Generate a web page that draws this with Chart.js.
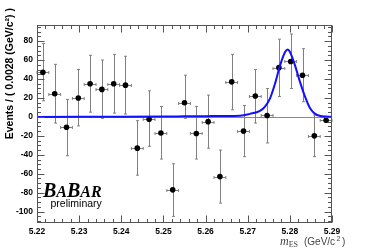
<!DOCTYPE html>
<html>
<head>
<meta charset="utf-8">
<script src="https://cdn.jsdelivr.net/npm/chart.js@4.4.1/dist/chart.umd.min.js"></script>
<style>
  html, body { margin: 0; padding: 0; background: #fff; }
  #wrap { position: relative; width: 371px; height: 251px; }
</style>
</head>
<body>
<div id="wrap"><canvas id="mes-chart" width="371" height="251"></canvas></div>
<script>
// m_ES bin centres (GeV/c^2), bins of 0.0028
const binCenters = [5.2214, 5.2242, 5.2270, 5.2298, 5.2326, 5.2354, 5.2382, 5.2410, 5.2438, 5.2466,
                    5.2494, 5.2522, 5.2550, 5.2578, 5.2606, 5.2634, 5.2662, 5.2690, 5.2718, 5.2746,
                    5.2774, 5.2802, 5.2830, 5.2858, 5.2886];
const binHalfWidth = 0.0014;
// events per bin and the ends of the error bars
const events  = [47, 24.5, -11, 20, 35, 29, 35, 33.5, -33, -2.5, -17, -77, 15, -17.5, -5, -63, 37, -15, 22, 1.5, 52, 58.5, 44, -20, -3.5];
const errHigh = [77.5, 55.5, 18.5, 50, 65, 60, 66, 64, -4, 27.5, 11, -49.5, 44, 11, 23, -35, 66, 12, 50, 30, 82, 87.5, 72, 2, -3.5];
const errLow  = [17, -6.5, -41, -9.5, 5, -1.5, 4, 3, -61.5, -31, -44.5, -105, -1.5, -44.5, -33, -91, 7.5, -42, -6.5, -27.5, 21.5, 30, 16, -42, -3.5];
// fit curve
const fitX = [5.22, 5.23, 5.24, 5.25, 5.255, 5.26, 5.264, 5.2682, 5.2705, 5.2729, 5.2741, 5.2753, 5.2765, 5.2777,
              5.2789, 5.2795, 5.2800, 5.2812, 5.2824, 5.2836, 5.2848, 5.2860, 5.2872, 5.2884, 5.29];
const fitY = [0, 0.1, 0.2, 0.4, 0.6, 0.8, 1.0, 1.3, 3.2, 6.3, 10.9, 19.6, 35.4, 54.7,
              68.8, 71.2, 68.8, 54.7, 37, 21.4, 9.1, 3.2, 1.0, 0.3, 0.1];
// axes
const xTicks = [5.22, 5.23, 5.24, 5.25, 5.26, 5.27, 5.28, 5.29];
const yTicks = [-100, -80, -60, -40, -20, 0, 20, 40, 60, 80];
const xRange = [5.22, 5.29];
const yRange = [-112, 97];
const xMinorStep = 0.002;
const yMinorStep = 5;

const SANS = '"Liberation Sans", Arial, sans-serif';
const SERIF = '"Liberation Serif", "Times New Roman", serif';

const decor = {
  id: 'decor',
  beforeDatasetsDraw(chart) {
    const { ctx, chartArea: a, scales: { x, y } } = chart;
    ctx.save();
    // zero line
    const y0 = Math.round(y.getPixelForValue(0)) + 0.5;
    ctx.strokeStyle = '#888';
    ctx.lineWidth = 1;
    ctx.beginPath(); ctx.moveTo(a.left, y0); ctx.lineTo(a.right, y0); ctx.stroke();

    // error bars
    ctx.strokeStyle = '#808080';
    for (let i = 0; i < binCenters.length; i++) {
      const px = Math.round(x.getPixelForValue(binCenters[i])) + 0.5;
      const py = Math.round(y.getPixelForValue(events[i])) + 0.5;
      const xl = x.getPixelForValue(binCenters[i] - binHalfWidth);
      const xr = x.getPixelForValue(binCenters[i] + binHalfWidth);
      ctx.beginPath();
      ctx.moveTo(xl, py); ctx.lineTo(xr, py);
      ctx.moveTo(xl, py - 1.5); ctx.lineTo(xl, py + 1.5);
      ctx.moveTo(xr, py - 1.5); ctx.lineTo(xr, py + 1.5);
      if (errHigh[i] !== errLow[i]) {
        const yh = y.getPixelForValue(errHigh[i]);
        const yl = y.getPixelForValue(errLow[i]);
        ctx.moveTo(px, yh); ctx.lineTo(px, yl);
        ctx.moveTo(px - 1.5, yh); ctx.lineTo(px + 1.5, yh);
        ctx.moveTo(px - 1.5, yl); ctx.lineTo(px + 1.5, yl);
      }
      ctx.stroke();
    }
    ctx.restore();
  },
  afterDraw(chart) {
    const { ctx, chartArea: a, scales: { x, y } } = chart;
    ctx.save();
    ctx.strokeStyle = '#555';
    ctx.lineWidth = 1;
    const L = a.left + 0.5, R = a.right - 0.5, T = a.top + 0.5, B = a.bottom - 0.5;
    ctx.strokeRect(L, T, R - L, B - T);

    // ticks pointing inwards on all four sides
    ctx.beginPath();
    for (let v = xRange[0]; v <= xRange[1] + 1e-9; v += xMinorStep) {
      const major = xTicks.some(t => Math.abs(t - v) < 1e-6);
      const px = Math.round(x.getPixelForValue(v)) + 0.5;
      const len = major ? 7 : 3.5;
      ctx.moveTo(px, B); ctx.lineTo(px, B - len);
      ctx.moveTo(px, T); ctx.lineTo(px, T + len);
    }
    for (let v = -110; v <= yRange[1]; v += yMinorStep) {
      const major = yTicks.indexOf(v) >= 0;
      const py = Math.round(y.getPixelForValue(v)) + 0.5;
      const len = major ? 7 : 3.5;
      ctx.moveTo(L, py); ctx.lineTo(L + len, py);
      ctx.moveTo(R, py); ctx.lineTo(R - len, py);
    }
    ctx.stroke();

    // y title, aligned to the top of the axis
    ctx.fillStyle = '#000';
    ctx.save();
    ctx.translate(10, 8);
    ctx.rotate(-Math.PI / 2);
    ctx.font = 'bold 10.5px ' + SANS;
    ctx.textAlign = 'right';
    ctx.textBaseline = 'middle';
    ctx.fillText('Events / ( 0.0028 (GeV/c²) )', 0, 0);
    ctx.restore();

    // x title  m_ES (GeV/c^2)
    ctx.fillStyle = '#444';
    ctx.textBaseline = 'alphabetic';
    ctx.textAlign = 'left';
    let cx = 280;
    const base = 245;
    ctx.font = 'italic 12px ' + SERIF;
    ctx.fillText('m', cx, base); cx += ctx.measureText('m').width;
    ctx.font = '8px ' + SERIF;
    ctx.fillText('ES', cx, base + 1.5); cx += ctx.measureText('ES').width + 6;
    ctx.font = '10px ' + SANS;
    ctx.fillText('(GeV/c', cx, base); cx += ctx.measureText('(GeV/c').width + 1.5;
    ctx.font = '7px ' + SANS;
    ctx.fillText('2', cx, base - 4); cx += ctx.measureText('2').width + 1.5;
    ctx.font = '10px ' + SANS;
    ctx.fillText(')', cx, base);

    // BaBar logo
    ctx.fillStyle = '#000';
    let bx = 43;
    const by = 197;
    [['B', 20], ['A', 16], ['B', 20], ['AR', 16]].forEach(function(p) {
      ctx.font = 'italic bold ' + p[1] + 'px ' + SERIF;
      ctx.fillText(p[0], bx, by);
      bx += ctx.measureText(p[0]).width;
    });
    ctx.font = '10.5px ' + SANS;
    ctx.fillText('preliminary', 50.5, 206.5);
    ctx.restore();
  }
};

new Chart(document.getElementById('mes-chart'), {
  data: {
    datasets: [
      {
        type: 'scatter',
        label: 'Data',
        data: binCenters.map(function(c, i) { return { x: c, y: events[i] }; }),
        pointRadius: 2.8,
        pointBackgroundColor: '#000',
        pointBorderWidth: 0,
        order: 2
      },
      {
        type: 'line',
        label: 'Fit',
        data: fitX.map(function(v, i) { return { x: v, y: fitY[i] }; }),
        borderColor: '#1010ff',
        borderWidth: 2,
        pointRadius: 0,
        fill: false,
        cubicInterpolationMode: 'monotone',
        order: 1
      }
    ]
  },
  options: {
    responsive: false,
    animation: false,
    layout: { padding: { top: 25, right: 39, left: 0, bottom: 0 } },
    plugins: { legend: { display: false }, tooltip: { enabled: false } },
    scales: {
      x: {
        type: 'linear',
        min: xRange[0], max: xRange[1],
        grid: { display: false, drawTicks: false },
        border: { display: false },
        afterBuildTicks: function(s) { s.ticks = xTicks.map(function(v) { return { value: v }; }); },
        afterFit: function(s) { s.height = 28; },
        ticks: {
          padding: 4, color: '#000', maxRotation: 0,
          font: { family: SANS, size: 8.5, weight: 'bold' },
          callback: function(v) { return v.toFixed(2); }
        }
      },
      y: {
        type: 'linear',
        min: yRange[0], max: yRange[1],
        grid: { display: false, drawTicks: false },
        border: { display: false },
        afterBuildTicks: function(s) { s.ticks = yTicks.map(function(v) { return { value: v }; }); },
        afterFit: function(s) { s.width = 37; },
        ticks: {
          padding: 4, color: '#000',
          font: { family: SANS, size: 8.5, weight: 'bold' },
          callback: function(v) { return String(v); }
        }
      }
    }
  },
  plugins: [decor]
});
</script>
</body>
</html>
